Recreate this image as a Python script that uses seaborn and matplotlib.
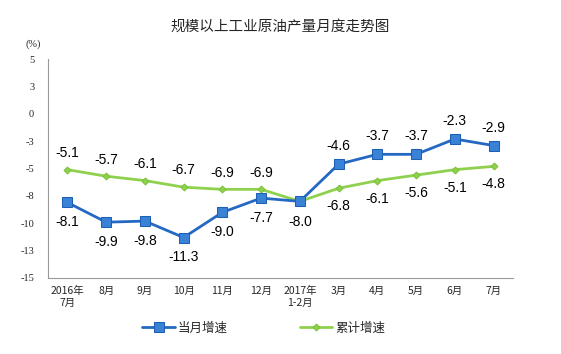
import pandas as pd
import numpy as np
import seaborn as sns
import matplotlib.pyplot as plt

sns.set_style("white")
plt.rcParams['font.family'] = ['Noto Sans CJK SC', 'DejaVu Sans']

months = ["2016年\n7月", "8月", "9月", "10月", "11月", "12月", "2017年\n1-2月",
          "3月", "4月", "5月", "6月", "7月"]
monthly = [-8.1, -9.9, -9.8, -11.3, -9.0, -7.7, -8.0, -4.6, -3.7, -3.7, -2.3, -2.9]
cumulative = [-5.1, -5.7, -6.1, -6.7, -6.9, -6.9, -8.0, -6.8, -6.1, -5.6, -5.1, -4.8]
yticks = [5, 2.5, 0, -2.5, -5, -7.5, -10, -12.5, -15]
ytick_labels = ["5", "3", "0", "-3", "-5", "-8", "-10", "-13", "-15"]

df = pd.DataFrame({
    "idx": list(range(len(months))) * 2,
    "value": monthly + cumulative,
    "series": ["当月增速"] * len(months) + ["累计增速"] * len(months),
})
blue, green = "#2468c4", "#8fd14f"

fig = plt.figure(figsize=(5.61, 3.54), dpi=100)
ax = fig.add_axes([0.0856, 0.2147, 0.8288, 0.6183])

sns.lineplot(data=df[df["series"] == "累计增速"], x="idx", y="value", color=green,
             marker="D", markersize=3.5, markeredgecolor="#7cc23a", linewidth=2,
             label="累计增速", ax=ax)
sns.lineplot(data=df[df["series"] == "当月增速"], x="idx", y="value", color=blue,
             marker="s", markersize=6.5, markerfacecolor="#3a82d6", markeredgecolor="#1d5fb5",
             linewidth=2, label="当月增速", ax=ax)

# data labels
lab_font = dict(family=["Liberation Sans", "DejaVu Sans"], fontsize=10, color="black",
                ha="center", va="center")
for i, (m, c) in enumerate(zip(monthly, cumulative)):
    if i == 6:
        ax.annotate(f"{m:.1f}", (i, m), xytext=(0, -15), textcoords="offset points", **lab_font)
        continue
    if m < c:
        ax.annotate(f"{m:.1f}", (i, m), xytext=(0, -14), textcoords="offset points", **lab_font)
        ax.annotate(f"{c:.1f}", (i, c), xytext=(0, 12), textcoords="offset points", **lab_font)
    else:
        ax.annotate(f"{m:.1f}", (i, m), xytext=(0, 13), textcoords="offset points", **lab_font)
        ax.annotate(f"{c:.1f}", (i, c), xytext=(0, -13), textcoords="offset points", **lab_font)

ax.set_xlim(-0.5, len(months) - 0.5)
ax.set_ylim(-15, 5)
ax.set_yticks(yticks)
ax.set_yticklabels(ytick_labels, family=["Liberation Serif", "DejaVu Serif"], fontsize=7.5)
ax.set_xticks(range(len(months)))
ax.set_xticklabels(months, fontsize=7.5, linespacing=1.2)
ax.set_xticks(np.arange(-0.5, len(months), 1), minor=True)
ax.tick_params(axis="x", which="major", length=0, pad=6)
ax.tick_params(axis="x", which="minor", length=3, direction="in", color="#999999")
ax.tick_params(axis="y", length=3, direction="in", color="#999999", pad=10)
ax.set_xlabel("")
ax.set_ylabel("")
for s in ["top", "right"]:
    ax.spines[s].set_visible(False)
for s in ["left", "bottom"]:
    ax.spines[s].set_color("#999999")
    ax.spines[s].set_linewidth(0.8)

h, l = ax.get_legend_handles_labels()
ax.get_legend().remove()
fig.legend(h[::-1], l[::-1], loc="center", bbox_to_anchor=(0.47, 0.073), ncol=2,
           frameon=False, fontsize=9, columnspacing=5.8, handlelength=2.6, handletextpad=0.2)

fig.text(0.5, 0.925, "规模以上工业原油产量月度走势图", ha="center", va="center", fontsize=10.5)
fig.text(0.06, 0.875, "(%)", ha="center", va="center", fontsize=7.5,
         family=["Liberation Serif", "DejaVu Serif"])

plt.savefig("out.png", dpi=100)
